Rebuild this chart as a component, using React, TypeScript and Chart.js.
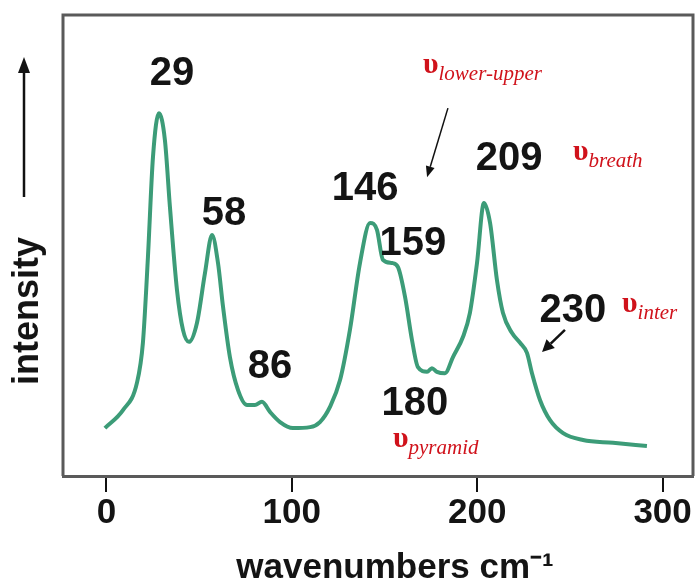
import React, { useEffect, useRef } from 'react';
import { Chart, registerables } from 'chart.js';

Chart.register(...registerables);

// Spectrum (wavenumber cm-1, relative intensity)
const WAVENUMBERS = [
  -0.8, 8.95, 16.48, 19.7, 22.41, 25.13, 28.34, 31.56, 34.27, 38.09, 41.31, 44.52, 48.85, 53.17, 56.99,
  60.2, 62.92, 66.63, 70.96, 75.88, 80.1, 83.92, 88.24, 93.67, 100.6, 109.85, 115.18, 120.6, 126.03,
  131.36, 136.78, 142.21, 145.93, 149.15, 154.07, 157.29, 161.11, 164.83, 168.04, 172.97, 175.58, 178.3,
  182.62, 186.94, 192.37, 196.08, 199.9, 203.62, 206.94, 210.65, 213.87, 218.8, 223.12, 226.84, 229.55,
  233.87, 239.29, 246.33, 257.08, 273.26, 291.55,
];
const INTENSITY = [
  10.4, 14.3, 20.2, 28.9, 47.5, 69.2, 78.7, 72.9, 58.4, 40.3, 31.7, 29.1, 33.2, 44.0, 52.3,
  46.2, 36.7, 25.8, 18.7, 15.4, 15.4, 16.1, 13.9, 11.7, 10.4, 10.6, 11.7, 15.0, 20.8,
  31.7, 46.2, 54.9, 53.4, 46.9, 46.2, 45.3, 38.8, 29.5, 23.6, 22.6, 23.4, 22.6,
  22.3, 25.8, 30.2, 35.4, 46.2, 59.2, 54.9, 42.5, 35.4, 31.0, 28.9, 26.7, 22.3,
  16.5, 12.1, 9.3, 7.8, 7.2, 6.5,
];

const X_TICKS = [0, 100, 200, 300];
const X_MIN = -23.4;
const X_MAX = 316.4;
const Y_MIN = 0;
const Y_MAX = 100;

const X_TITLE = 'wavenumbers cm\u207B\u00B9';
const X_TITLE_POS = 155.7;
const Y_TITLE = 'intensity';

// Peak labels
const PEAK_LABELS = ['29', '58', '86', '146', '159', '180', '209', '230'];
const PEAK_LABEL_X = [35.38, 63.42, 88.24, 139.5, 165.32, 166.43, 217.19, 251.65];
const PEAK_LABEL_Y = [84.8, 54.4, 21.3, 59.9, 47.9, 13.2, 66.4, 33.4];

// Vibrational mode labels
const MODE_SYMBOL = '\u03C5';
const MODE_NAMES = ['lower-upper', 'breath', 'inter', 'pyramid'];
const MODE_X = [170.75, 251.65, 278.09, 154.57];
const MODE_Y = [87.4, 68.5, 35.6, 6.3];

// Pointer arrows (from -> to)
const ARROW_FROM_X = [184.22, 247.34];
const ARROW_FROM_Y = [79.8, 31.7];
const ARROW_TO_X = [172.97, 234.98];
const ARROW_TO_Y = [64.8, 26.9];

const SANS = '"Liberation Sans", Arial, Helvetica, sans-serif';
const SERIF = '"Liberation Serif", "Times New Roman", serif';
const LINE_COLOR = '#3c9c78';
const RED = '#d0121b';
const FRAME = '#5a5a5a';

function arrow(ctx: CanvasRenderingContext2D, x1: number, y1: number, x2: number, y2: number, head: number, half: number, width: number) {
  const ang = Math.atan2(y2 - y1, x2 - x1);
  const bx = x2 - Math.cos(ang) * head;
  const by = y2 - Math.sin(ang) * head;
  ctx.beginPath();
  ctx.lineWidth = width;
  ctx.moveTo(x1, y1);
  ctx.lineTo(bx, by);
  ctx.stroke();
  ctx.beginPath();
  ctx.moveTo(x2, y2);
  ctx.lineTo(bx + Math.sin(ang) * half, by - Math.cos(ang) * half);
  ctx.lineTo(bx - Math.sin(ang) * half, by + Math.cos(ang) * half);
  ctx.closePath();
  ctx.fill();
}

const decorPlugin = {
  id: 'decor',
  afterDraw(chart: any) {
    const { ctx, chartArea } = chart;
    const xs = chart.scales.x;
    const ys = chart.scales.y;
    const { left, right, top, bottom } = chartArea;
    ctx.save();
    // frame (left, top, right)
    ctx.strokeStyle = FRAME;
    ctx.lineWidth = 3;
    ctx.beginPath();
    ctx.moveTo(left, bottom);
    ctx.lineTo(left, top);
    ctx.lineTo(right, top);
    ctx.lineTo(right, bottom);
    ctx.stroke();

    // peak labels
    ctx.fillStyle = '#141414';
    ctx.font = `bold 40px ${SANS}`;
    ctx.textAlign = 'center';
    ctx.textBaseline = 'alphabetic';
    PEAK_LABELS.forEach((t, i) => {
      ctx.fillText(t, xs.getPixelForValue(PEAK_LABEL_X[i]), ys.getPixelForValue(PEAK_LABEL_Y[i]));
    });

    // mode labels
    ctx.fillStyle = RED;
    ctx.textAlign = 'left';
    MODE_NAMES.forEach((n, i) => {
      const px = xs.getPixelForValue(MODE_X[i]);
      const py = ys.getPixelForValue(MODE_Y[i]);
      ctx.font = `bold 30px ${SERIF}`;
      ctx.fillText(MODE_SYMBOL, px, py);
      const w = ctx.measureText(MODE_SYMBOL).width;
      ctx.font = `italic 21px ${SERIF}`;
      ctx.fillText(n, px + w, py + 7);
    });

    // arrows
    ctx.strokeStyle = '#111';
    ctx.fillStyle = '#111';
    arrow(ctx, xs.getPixelForValue(ARROW_FROM_X[0]), ys.getPixelForValue(ARROW_FROM_Y[0]),
      xs.getPixelForValue(ARROW_TO_X[0]), ys.getPixelForValue(ARROW_TO_Y[0]), 11, 4.5, 1.5);
    arrow(ctx, xs.getPixelForValue(ARROW_FROM_X[1]), ys.getPixelForValue(ARROW_FROM_Y[1]),
      xs.getPixelForValue(ARROW_TO_X[1]), ys.getPixelForValue(ARROW_TO_Y[1]), 12, 6, 2.5);

    // y title + arrow
    ctx.fillStyle = '#141414';
    ctx.font = `bold 36px ${SANS}`;
    ctx.save();
    ctx.translate(28, 311);
    ctx.rotate(-Math.PI / 2);
    ctx.textAlign = 'center';
    ctx.textBaseline = 'middle';
    ctx.fillText(Y_TITLE, 0, 0);
    ctx.restore();
    arrow(ctx, 24, 197, 24, 57, 16, 6, 2.5);

    // x title
    ctx.textAlign = 'center';
    ctx.textBaseline = 'middle';
    ctx.font = `bold 35px ${SANS}`;
    ctx.fillText(X_TITLE, xs.getPixelForValue(X_TITLE_POS), 568);
    ctx.restore();
  },
};

export default function App() {
  const ref = useRef<HTMLCanvasElement | null>(null);
  useEffect(() => {
    document.body.style.margin = '0';
    const canvas = ref.current;
    if (!canvas) return;
    const chart = new Chart(canvas, {
      type: 'line',
      data: {
        datasets: [
          {
            data: WAVENUMBERS.map((x, i) => ({ x, y: INTENSITY[i] })),
            borderColor: LINE_COLOR,
            borderWidth: 4,
            pointRadius: 0,
            cubicInterpolationMode: 'monotone',
            fill: false,
          },
        ],
      },
      options: {
        responsive: false,
        animation: false,
        events: [],
        layout: { padding: { left: 63, right: 2, top: 15, bottom: 0 } },
        plugins: { legend: { display: false }, tooltip: { enabled: false } },
        scales: {
          x: {
            type: 'linear',
            min: X_MIN,
            max: X_MAX,
            afterBuildTicks: (s: any) => {
              s.ticks = X_TICKS.map((v) => ({ value: v }));
            },
            afterFit: (s: any) => {
              s.height = 112;
            },
            grid: {
              display: true,
              drawOnChartArea: false,
              drawTicks: true,
              tickLength: 16,
              color: '#111',
              lineWidth: 2,
            },
            border: { display: true, color: FRAME, width: 3 },
            ticks: {
              color: '#141414',
              padding: 0,
              maxRotation: 0,
              autoSkip: false,
              font: { family: SANS, size: 35, weight: 'bold' },
            },
          },
          y: { display: false, min: Y_MIN, max: Y_MAX },
        },
      },
      plugins: [decorPlugin],
    } as any);
    return () => chart.destroy();
  }, []);
  return <canvas ref={ref} width={695} height={588} style={{ display: 'block' }} />;
}
